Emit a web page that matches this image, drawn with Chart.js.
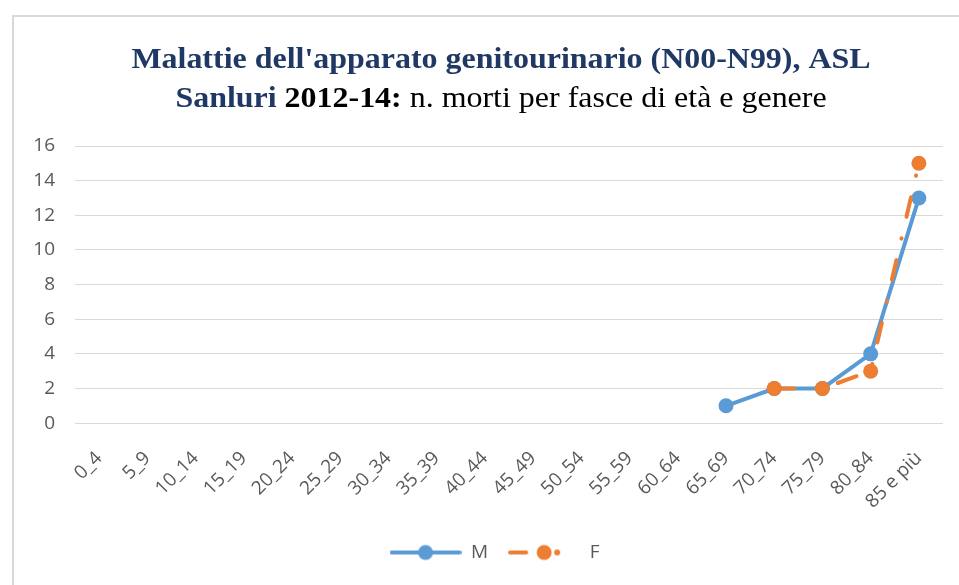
<!DOCTYPE html>
<html>
<head>
<meta charset="utf-8">
<script src="https://cdn.jsdelivr.net/npm/chart.js@4.4.1/dist/chart.umd.min.js"></script>
<style>
    html, body { margin: 0; padding: 0; background: #ffffff; }
    #wrap { position: relative; width: 959px; height: 585px; }
</style>
</head>
<body>
<div id="wrap"><canvas id="chart" width="959" height="585"></canvas></div>
<script>
// Age groups (x axis)
const ageGroups = ['0_4', '5_9', '10_14', '15_19', '20_24', '25_29', '30_34', '35_39', '40_44',
    '45_49', '50_54', '55_59', '60_64', '65_69', '70_74', '75_79', '80_84', '85 e più'];

// Deaths by age group
const deathsM = [null, null, null, null, null, null, null, null, null,
    null, null, null, null, 1, 2, 2, 4, 13];
const deathsF = [null, null, null, null, null, null, null, null, null,
    null, null, null, null, null, 2, 2, 3, 15];

// Y axis ticks
const yMin = 0;
const yMax = 16;
const yStep = 2;

const blue = '#5B9BD5';
const orange = '#ED7D31';
const fDash = [20, 22, 0.5, 22];

// Small canvases used as legend icons (line + marker)
function makeIcon(color, dashed) {
    const c = document.createElement('canvas');
    c.width = 72;
    c.height = 18;
    const g = c.getContext('2d');
    g.strokeStyle = color;
    g.fillStyle = color;
    g.lineWidth = 4;
    g.lineCap = 'round';
    g.beginPath();
    if (dashed) {
        g.moveTo(2, 9);
        g.lineTo(18, 9);
    } else {
        g.moveTo(2, 9);
        g.lineTo(70, 9);
    }
    g.stroke();
    g.beginPath();
    g.arc(36, 9, 7.5, 0, Math.PI * 2);
    g.fill();
    if (dashed) {
        g.beginPath();
        g.arc(49, 9, 3, 0, Math.PI * 2);
        g.fill();
    }
    return c;
}
const iconM = makeIcon(blue, false);
const iconF = makeIcon(orange, true);

// Background frame
const framePlugin = {
    id: 'frame',
    beforeDraw(chart) {
        const ctx = chart.ctx;
        ctx.save();
        ctx.fillStyle = '#ffffff';
        ctx.fillRect(0, 0, chart.width, chart.height);
        ctx.strokeStyle = '#d9d9d9';
        ctx.lineWidth = 2;
        ctx.strokeRect(13, 16, 1000, 700);
        ctx.restore();
    }
};

// Legend sits a little right of the canvas centre in the original
const legendShift = {
    id: 'legendShift',
    afterLayout(chart) {
        if (chart.legend) {
            chart.legend.left += 7;
            chart.legend.right += 7;
        }
    }
};

// Title with bold/normal parts on the same line
const titlePlugin = {
    id: 'mixedTitle',
    afterDraw(chart) {
        const ctx = chart.ctx;
        const cx = 501;
        const stretch = 1.065;
        const navy = '#1F3864';
        const bold = 'bold 30px "Liberation Serif"';
        const normal = '30px "Liberation Serif"';
        const lines = [
            [{ t: "Malattie dell'apparato genitourinario (N00-N99), ASL", f: bold, c: navy }],
            [
                { t: 'Sanluri ', f: bold, c: navy },
                { t: '2012-14: ', f: bold, c: '#000000' },
                { t: 'n. morti per fasce di età e genere', f: normal, c: '#000000' }
            ]
        ];
        const baselines = [68, 107];
        ctx.save();
        ctx.textBaseline = 'alphabetic';
        ctx.textAlign = 'left';
        lines.forEach(function(parts, i) {
            let total = 0;
            parts.forEach(function(p) {
                ctx.font = p.f;
                p.w = ctx.measureText(p.t).width;
                total += p.w;
            });
            ctx.save();
            ctx.translate(cx, 0);
            ctx.scale(stretch, 1);
            let x = -total / 2;
            parts.forEach(function(p) {
                ctx.font = p.f;
                ctx.fillStyle = p.c;
                ctx.fillText(p.t, x, baselines[i]);
                x += p.w;
            });
            ctx.restore();
        });
        ctx.restore();
    }
};

const tickFont = { family: '"Open Sans"', size: 19 };

new Chart(document.getElementById('chart').getContext('2d'), {
    type: 'line',
    data: {
        labels: ageGroups,
        datasets: [{
            label: 'M',
            data: deathsM,
            borderColor: blue,
            backgroundColor: blue,
            borderWidth: 4,
            pointRadius: 7.5,
            pointHoverRadius: 7.5,
            pointBorderWidth: 0,
            pointBackgroundColor: blue,
            tension: 0,
            order: 2
        }, {
            label: 'F',
            data: deathsF,
            borderColor: orange,
            backgroundColor: orange,
            borderWidth: 4,
            borderDash: fDash,
            borderCapStyle: 'round',
            pointRadius: 7.5,
            pointHoverRadius: 7.5,
            pointBorderWidth: 0,
            pointBackgroundColor: orange,
            tension: 0,
            order: 1
        }]
    },
    options: {
        responsive: false,
        animation: false,
        layout: {
            padding: { top: 146, left: 32, right: 16, bottom: 13 }
        },
        plugins: {
            title: { display: false },
            tooltip: { enabled: false },
            legend: {
                position: 'bottom',
                labels: {
                    usePointStyle: true,
                    pointStyleWidth: 72,
                    color: '#595959',
                    font: { family: '"Open Sans"', size: 19 },
                    padding: 20,
                    sort: function(a, b) { return a.datasetIndex - b.datasetIndex; },
                    generateLabels: function(chart) {
                        const items = Chart.defaults.plugins.legend.labels.generateLabels(chart);
                        items.forEach(function(item) {
                            item.pointStyle = item.datasetIndex === 0 ? iconM : iconF;
                        });
                        return items;
                    }
                }
            }
        },
        scales: {
            x: {
                offset: true,
                grid: { display: false, drawTicks: false },
                border: { display: false },
                ticks: {
                    color: '#595959',
                    font: tickFont,
                    minRotation: 45,
                    maxRotation: 45,
                    autoSkip: false,
                    padding: 24
                },
                afterFit: function(scale) {
                    scale.paddingLeft = 0;
                    scale.paddingRight = 0;
                    scale.height -= 14;
                }
            },
            y: {
                min: yMin,
                max: yMax,
                grid: { color: '#d9d9d9', lineWidth: 1, drawTicks: false },
                border: { display: false },
                ticks: {
                    stepSize: yStep,
                    color: '#595959',
                    font: tickFont,
                    padding: 20
                },
                afterFit: function(scale) {
                    scale.width = 43;
                }
            }
        }
    },
    plugins: [framePlugin, legendShift, titlePlugin]
});
</script>
</body>
</html>
